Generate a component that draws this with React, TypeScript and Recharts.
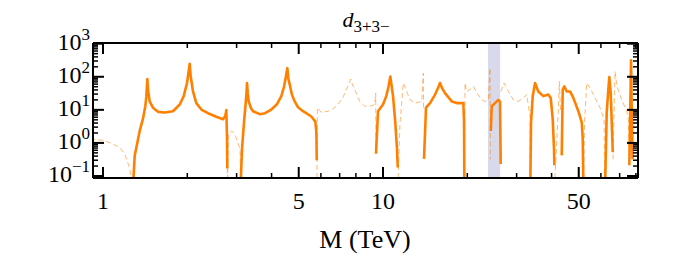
import React from "react";
import { LineChart, Line, XAxis, YAxis, ReferenceArea } from "recharts";

/* ------------------------------------------------------------------ */
/*  Data (M in TeV, |d| value)                                         */
/* ------------------------------------------------------------------ */

const X_MAJOR = [1, 5, 10, 50];
const X_MINOR = [2, 3, 4, 6, 7, 8, 9, 20, 30, 40, 60, 70, 80];
const Y_MAJOR = [0.1, 1, 10, 100, 1000];
const Y_EXP = ["−1", "0", "1", "2", "3"];
const Y_MINOR = [
  0.2, 0.3, 0.4, 0.5, 0.6, 0.7, 0.8, 0.9,
  2, 3, 4, 5, 6, 7, 8, 9,
  20, 30, 40, 50, 60, 70, 80, 90,
  200, 300, 400, 500, 600, 700, 800, 900,
];
const BAND = [23.7, 26.2];

// solid segments
const solid1 = [
  [1.28, 0.05], [1.298, 0.42], [1.334, 1.3], [1.352, 2.3], [1.39, 5.5], [1.416, 12.9],
  [1.428, 26], [1.44, 85], [1.448, 41], [1.468, 18], [1.509, 11.5], [1.572, 8.7],
  [1.661, 8.3], [1.778, 9.1], [1.879, 14.5], [1.942, 26], [1.995, 65], [2.04, 245],
  [2.057, 102], [2.096, 36], [2.154, 16], [2.245, 10.2], [2.371, 7.9], [2.539, 6.2],
  [2.683, 5.2], [2.734, 6.5], [2.757, 9.8], [2.773, 1.3], [2.779, 0.17],
];
const solid2 = [
  [3.1, 0.05], [3.136, 0.66], [3.188, 4.2], [3.233, 16], [3.254, 32], [3.268, 65],
  [3.289, 32], [3.314, 18], [3.378, 11.2], [3.433, 9.1], [3.628, 7.4], [3.79, 7.9],
  [3.99, 10.2], [4.182, 14.8], [4.334, 26], [4.43, 50], [4.479, 81], [4.553, 182],
  [4.591, 89], [4.644, 58], [4.732, 28], [4.838, 18], [4.972, 12], [5.18, 9.1],
  [5.546, 6.3], [5.732, 4.4], [5.78, 2.1], [5.799, 0.3],
];
const solid3 = [
  [9.44, 0.47], [9.597, 9.1], [10.0, 14.5], [10.27, 26], [10.46, 50], [10.62, 102],
  [10.86, 26], [11.06, 4.2], [11.22, 0.66], [11.29, 0.18],
];
const solid4 = [
  [14.01, 0.33], [14.24, 11.7], [14.72, 16], [15.34, 29], [15.72, 46], [15.98, 65],
  [16.24, 46], [16.65, 32], [17.6, 18], [18.34, 16], [19.36, 16], [19.47, 4.2], [19.52, 0.05],
];
const solid5 = [
  [24.27, 2.3], [24.45, 12.9], [25.12, 16], [25.81, 20], [26.17, 18], [26.32, 0.23],
];
const solid6 = [
  [33.58, 0.05], [33.78, 4.2], [34.25, 26], [34.91, 65], [35.85, 36], [37.36, 26],
  [38.94, 29], [39.71, 23], [40.37, 5.2], [40.8, 0.66], [40.91, 0.21],
];
const solid7 = [
  [43.47, 0.42], [43.84, 41], [44.42, 51], [45.31, 36], [46.56, 36], [47.83, 23],
  [49.84, 9.1], [51.25, 4.2], [51.68, 1.3], [51.94, 0.05],
];
const solid8 = [
  [62.1, 0.05], [62.94, 8.3], [63.77, 41], [64.3, 98], [65.05, 32], [65.59, 4.2], [66.14, 0.52],
];
const solid9 = [[75.8, 0.21], [76.87, 316], [77.31, 10], [77.83, 0.32]];

// dashed segments
const dash1 = [
  [0.9, 1.3], [1.0, 1.2], [1.086, 0.93], [1.15, 0.7], [1.195, 0.47], [1.246, 0.17], [1.272, 0.05],
];
const dash2 = [
  [2.779, 0.17], [2.784, 0.05], [2.803, 1.86], [2.882, 2.3], [2.961, 1.8], [3.034, 1.0],
  [3.085, 0.66], [3.105, 0.05],
];
const dash3 = [
  [5.808, 0.05], [5.827, 11.7], [6.02, 8.3], [6.363, 9.1], [6.63, 10.7], [6.908, 14.5],
  [7.196, 24], [7.393, 41], [7.56, 63], [7.666, 85], [7.75, 63], [7.923, 41], [8.257, 18],
  [8.604, 12.9], [8.965, 12.9], [9.342, 14.5], [9.418, 32], [9.433, 0.4],
];
const dash4 = [
  [11.3, 0.05], [11.5, 4], [11.82, 65], [12.08, 41], [12.49, 20], [13.01, 16], [13.75, 18],
  [13.93, 129], [13.96, 10],
];
const dash5 = [
  [19.55, 0.05], [19.63, 65], [19.9, 36], [20.45, 41], [21.02, 51], [21.67, 32], [22.52, 20],
  [23.14, 18], [23.78, 20], [24.11, 182], [24.17, 0.32],
];
const dash6 = [
  [26.36, 36], [27.05, 65], [28.03, 36], [29.2, 20], [30.43, 18], [31.7, 23], [32.6, 29],
  [33.08, 12.6], [33.5, 6.5], [33.52, 0.05],
];
const dash7 = [[40.98, 0.05], [42.28, 10], [42.62, 72], [43.05, 10]];
const dash8 = [
  [52.02, 0.05], [52.44, 4.2], [53.4, 65], [54.87, 46], [57.17, 23], [59.57, 11.7],
  [61.57, 5.2], [62.08, 0.05],
];
const dash9 = [
  [66.29, 0.32], [67.39, 145], [68.5, 50], [71.2, 20], [74.2, 9.1], [75.2, 5.2], [75.6, 0.5],
];

/* ------------------------------------------------------------------ */
/*  Layout                                                             */
/* ------------------------------------------------------------------ */

const W = 665;
const H = 246;
const PLOT = { left: 85, right: 630, top: 35, bottom: 170 };
const FONT = "'Liberation Serif', 'Times New Roman', serif";
const ORANGE = "#ff8000";

// join segments into one series, with null points to break the line
function joinSegments(segs: number[][][]) {
  const out: { m: number; v: number | null }[] = [];
  segs.forEach((seg, i) => {
    if (i > 0) {
      const prev = segs[i - 1][segs[i - 1].length - 1][0];
      out.push({ m: (prev + seg[0][0]) / 2, v: null });
    }
    seg.forEach(([m, v]) => out.push({ m, v }));
  });
  return out;
}

const solidData = joinSegments([solid1, solid2, solid3, solid4, solid5, solid6, solid7, solid8, solid9]);
const dashData = joinSegments([dash1, dash2, dash3, dash4, dash5, dash6, dash7, dash8, dash9]);

function XTick(props: any) {
  const { x, payload, top } = props;
  const major = X_MAJOR.includes(payload.value);
  const len = major ? 11 : 5;
  const y0 = top ? PLOT.top : PLOT.bottom;
  const y1 = top ? y0 + len : y0 - len;
  return (
    <g>
      <line x1={x} x2={x} y1={y0} y2={y1} stroke="#000" strokeWidth={major ? 2 : 1.5} />
      {!top && major && (
        <text x={x} y={PLOT.bottom + 31} textAnchor="middle" fontFamily={FONT} fontSize={24} fill="#000">
          {payload.value}
        </text>
      )}
    </g>
  );
}

function YTick(props: any) {
  const { y, payload, right } = props;
  const idx = Y_MAJOR.indexOf(payload.value);
  const major = idx >= 0;
  const len = major ? 11 : 5;
  const x0 = right ? PLOT.right : PLOT.left;
  const x1 = right ? x0 - len : x0 + len;
  return (
    <g>
      <line x1={x0} x2={x1} y1={y} y2={y} stroke="#000" strokeWidth={major ? 2 : 1.5} />
      {!right && major && (
        <text x={PLOT.left - 3} y={y + 6} textAnchor="end" fontFamily={FONT} fontSize={24} fill="#000">
          <tspan>10</tspan>
          <tspan fontSize={17} dy={-10}>{Y_EXP[idx]}</tspan>
        </text>
      )}
    </g>
  );
}

export default function App() {
  const xTicks = [...X_MAJOR, ...X_MINOR].sort((a, b) => a - b);
  const yTicks = [...Y_MAJOR, ...Y_MINOR].sort((a, b) => a - b);
  const xDomain = [0.921, 81.4];
  const yDomain = [0.087, 1050];

  return (
    <div style={{ position: "relative", width: W, height: H }}>
      <LineChart
        width={W}
        height={H}
        margin={{ top: PLOT.top - 1, right: W - PLOT.right - 1, bottom: H - PLOT.bottom - 1, left: PLOT.left - 1 }}
      >
        <XAxis
          xAxisId="b"
          dataKey="m"
          type="number"
          scale="log"
          domain={xDomain}
          allowDataOverflow
          ticks={xTicks}
          interval={0}
          height={1}
          tickSize={0}
          tickLine={false}
          axisLine={{ stroke: "#000", strokeWidth: 2 }}
          tick={(p: any) => <XTick {...p} />}
        />
        <XAxis
          xAxisId="t"
          orientation="top"
          dataKey="m"
          type="number"
          scale="log"
          domain={xDomain}
          allowDataOverflow
          ticks={xTicks}
          interval={0}
          height={1}
          tickSize={0}
          tickLine={false}
          axisLine={{ stroke: "#000", strokeWidth: 2 }}
          tick={(p: any) => <XTick {...p} top />}
        />
        <YAxis
          yAxisId="l"
          type="number"
          scale="log"
          domain={yDomain}
          allowDataOverflow
          ticks={yTicks}
          interval={0}
          width={1}
          tickSize={0}
          tickLine={false}
          axisLine={{ stroke: "#000", strokeWidth: 2 }}
          tick={(p: any) => <YTick {...p} />}
        />
        <YAxis
          yAxisId="r"
          orientation="right"
          type="number"
          scale="log"
          domain={yDomain}
          allowDataOverflow
          ticks={yTicks}
          interval={0}
          width={1}
          tickSize={0}
          tickLine={false}
          axisLine={{ stroke: "#000", strokeWidth: 2 }}
          tick={(p: any) => <YTick {...p} right />}
        />
        <ReferenceArea
          xAxisId="b"
          yAxisId="l"
          x1={BAND[0]}
          x2={BAND[1]}
          fill="#d9d9ec"
          fillOpacity={1}
          stroke="none"
        />
        <Line
          xAxisId="b"
          yAxisId="l"
          data={dashData}
          dataKey="v"
          type="linear"
          stroke={ORANGE}
          strokeOpacity={0.55}
          strokeWidth={1}
          strokeDasharray="5 3"
          dot={false}
          activeDot={false}
          isAnimationActive={false}
        />
        <Line
          xAxisId="b"
          yAxisId="l"
          data={solidData}
          dataKey="v"
          type="linear"
          stroke={ORANGE}
          strokeWidth={2.6}
          strokeLinejoin="round"
          dot={false}
          activeDot={false}
          isAnimationActive={false}
        />
      </LineChart>
      <svg
        width={W}
        height={H}
        style={{ position: "absolute", left: 0, top: 0, pointerEvents: "none" }}
      >
        <text x={358} y={19} textAnchor="middle" fontFamily={FONT} fontSize={22} fill="#000">
          <tspan fontStyle="italic">d</tspan>
          <tspan fontSize={17} dy={5}>3+3−</tspan>
        </text>
        <text x={357} y={240} textAnchor="middle" fontFamily={FONT} fontSize={26} fill="#000">
          M (TeV)
        </text>
      </svg>
    </div>
  );
}
